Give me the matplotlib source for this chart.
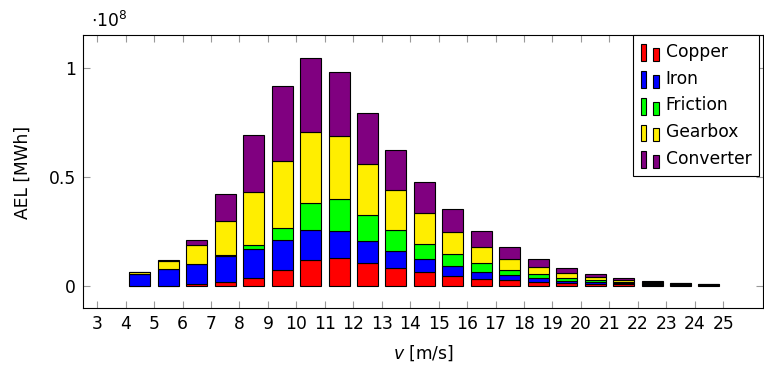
import matplotlib
matplotlib.use("Agg")
import matplotlib.pyplot as plt
from matplotlib.patches import Patch, Rectangle
from matplotlib.legend_handler import HandlerBase
import numpy as np

plt.rcParams['font.family'] = ['DejaVu Sans']
plt.rcParams['mathtext.fontset'] = 'dejavusans'

# Wind speed bin centres [m/s]
v_bins = [4.5, 5.5, 6.5, 7.5, 8.5, 9.5, 10.5, 11.5, 12.5, 13.5, 14.5,
          15.5, 16.5, 17.5, 18.5, 19.5, 20.5, 21.5, 22.5, 23.5, 24.5]
# Annual energy losses, in units of 1e8 MWh
copper    = [0.000, 0.000, 0.005, 0.015, 0.036, 0.070, 0.116, 0.125, 0.102, 0.079, 0.061,
             0.045, 0.031, 0.024, 0.016, 0.013, 0.009, 0.006, 0.004, 0.003, 0.002]
iron      = [0.051, 0.074, 0.095, 0.121, 0.132, 0.138, 0.139, 0.127, 0.101, 0.081, 0.061,
             0.046, 0.032, 0.024, 0.020, 0.009, 0.007, 0.005, 0.003, 0.002, 0.001]
friction  = [0.000, 0.000, 0.000, 0.003, 0.018, 0.056, 0.124, 0.145, 0.121, 0.094, 0.069,
             0.052, 0.039, 0.024, 0.016, 0.012, 0.008, 0.005, 0.003, 0.002, 0.001]
gearbox   = [0.012, 0.040, 0.085, 0.157, 0.242, 0.306, 0.324, 0.290, 0.233, 0.183, 0.141,
             0.101, 0.075, 0.050, 0.032, 0.022, 0.013, 0.009, 0.005, 0.003, 0.002]
converter = [0.001, 0.002, 0.025, 0.122, 0.261, 0.344, 0.341, 0.291, 0.237, 0.185, 0.142,
             0.107, 0.075, 0.054, 0.037, 0.024, 0.016, 0.010, 0.005, 0.003, 0.002]

series_names = ['Copper', 'Iron', 'Friction', 'Gearbox', 'Converter']
series_values = [copper, iron, friction, gearbox, converter]
series_colors = ['#ff0000', '#0000ff', '#00ff00', '#ffee00', '#800080']

x_ticks = list(range(3, 26))
y_ticks = [0, 0.5, 1]
y_tick_labels = ['0', '0.5', '1']

W, H = 764, 366
fig = plt.figure(figsize=(W / 100, H / 100), dpi=100)
L, R, T, B = 83, 763, 35, 308
ax = fig.add_axes([L / W, 1 - B / H, (R - L) / W, (B - T) / H])

bottom = np.zeros(len(v_bins))
for name, vals, col in zip(series_names, series_values, series_colors):
    vals = np.array(vals)
    ax.bar(v_bins, vals, width=0.74, bottom=bottom, color=col,
           edgecolor='black', linewidth=0.8, label=name, zorder=2)
    bottom += vals

ax.set_xlim(2.5, 26.4)
ax.set_ylim(-0.103, 1.15)
ax.set_xticks(x_ticks)
ax.set_xticklabels([str(t) for t in x_ticks])
ax.set_yticks(y_ticks)
ax.set_yticklabels(y_tick_labels)
ax.tick_params(direction='in', length=5, width=0.8, color='0.6',
               top=True, right=True, labelsize=12.3, pad=5)
for s in ax.spines.values():
    s.set_linewidth(0.8)
    s.set_color('black')


class TwoBarHandler(HandlerBase):
    def create_artists(self, legend, orig_handle, xdescent, ydescent,
                       width, height, fontsize, trans):
        fc = orig_handle.get_facecolor()
        bw = width * 0.31
        y0 = -ydescent - height * 0.15
        r1 = Rectangle((-xdescent, y0), bw, height * 1.1,
                       facecolor=fc, edgecolor='black', linewidth=0.8, transform=trans)
        r2 = Rectangle((-xdescent + width - bw, y0), bw, height * 0.85,
                       facecolor=fc, edgecolor='black', linewidth=0.8, transform=trans)
        return [r1, r2]


handles = [Patch(facecolor=c, edgecolor='black') for c in series_colors]
leg = ax.legend(handles, series_names, loc='upper right',
                bbox_to_anchor=(759 / W, 1 - 35 / H), bbox_transform=fig.transFigure,
                borderaxespad=0, fontsize=12.3, frameon=True, fancybox=False,
                edgecolor='black', framealpha=1, handlelength=1.05, handleheight=1.0,
                handletextpad=0.4, labelspacing=0.52, borderpad=0.45,
                handler_map={Patch: TwoBarHandler()})
leg.get_frame().set_linewidth(0.8)

fig.text(23 / W, 1 - 172 / H, 'AEL [MWh]', rotation=90, ha='center', va='center',
         fontsize=12.3)
fig.text(423 / W, 1 - 353 / H, r'$v$ [m/s]', ha='center', va='center', fontsize=12.3)
fig.text(91 / W, 1 - 21 / H, r'$\cdot10^{8}$', ha='left', va='center', fontsize=12.3)

fig.savefig('out.png', dpi=100)
